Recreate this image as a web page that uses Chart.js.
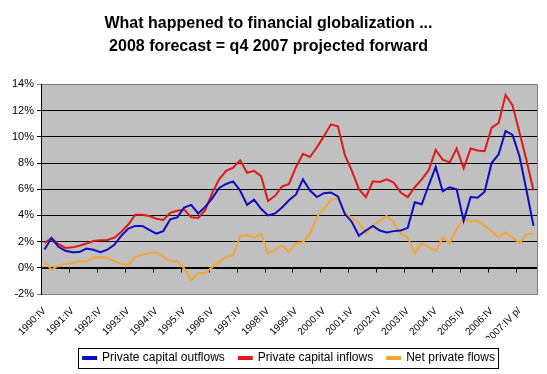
<!DOCTYPE html>
<html>
<head>
<meta charset="utf-8">
<script src="https://cdn.jsdelivr.net/npm/chart.js@4/dist/chart.umd.min.js"></script>
<style>
  html, body { margin: 0; padding: 0; background: #fff; }
  #wrap { width: 547px; height: 374px; }
</style>
</head>
<body>
<div id="wrap"><canvas id="chart" width="547" height="374"></canvas></div>
<script>
// quarters 1990:IV .. 2007:IV p/, then the two 2008 forecast points
const quarters = [
  "1990:IV",
  "1991:I", "1991:II", "1991:III", "1991:IV",
  "1992:I", "1992:II", "1992:III", "1992:IV",
  "1993:I", "1993:II", "1993:III", "1993:IV",
  "1994:I", "1994:II", "1994:III", "1994:IV",
  "1995:I", "1995:II", "1995:III", "1995:IV",
  "1996:I", "1996:II", "1996:III", "1996:IV",
  "1997:I", "1997:II", "1997:III", "1997:IV",
  "1998:I", "1998:II", "1998:III", "1998:IV",
  "1999:I", "1999:II", "1999:III", "1999:IV",
  "2000:I", "2000:II", "2000:III", "2000:IV",
  "2001:I", "2001:II", "2001:III", "2001:IV",
  "2002:I", "2002:II", "2002:III", "2002:IV",
  "2003:I", "2003:II", "2003:III", "2003:IV",
  "2004:I", "2004:II", "2004:III", "2004:IV",
  "2005:I", "2005:II", "2005:III", "2005:IV",
  "2006:I", "2006:II", "2006:III", "2006:IV",
  "2007:I", "2007:II", "2007:III", "2007:IV p/",
  "2008:I", "2008:II"
];

// % of GDP
const outflows = [
  1.4,
  2.27, 1.6, 1.3, 1.18,
  1.2, 1.47, 1.38, 1.2,
  1.38, 1.75, 2.45, 3.0,
  3.2, 3.2, 2.9, 2.6,
  2.8, 3.7, 3.85, 4.6,
  4.8, 4.15, 4.65, 5.3,
  6.1, 6.4, 6.6, 5.9,
  4.8, 5.2, 4.5, 4.0,
  4.15, 4.6, 5.15, 5.6,
  6.75, 5.9, 5.4, 5.7,
  5.75, 5.45, 4.1, 3.5,
  2.45, 2.85, 3.2, 2.85,
  2.7, 2.8, 2.85, 3.05,
  5.0, 4.85, 6.3, 7.7,
  5.85, 6.15, 6.0, 3.6,
  5.4, 5.35, 5.8, 8.0,
  8.65, 10.45, 10.15, 8.5,
  5.9, 3.2
];

const inflows = [
  1.9,
  2.25, 1.8, 1.52, 1.56,
  1.68, 1.85, 2.05, 2.1,
  2.12, 2.3, 2.75, 3.3,
  4.05, 4.05, 3.95, 3.75,
  3.65, 4.2, 4.35, 4.45,
  3.85, 3.8, 4.4, 5.7,
  6.75, 7.4, 7.65, 8.2,
  7.25, 7.4, 7.0, 5.1,
  5.5, 6.2, 6.4, 7.7,
  8.7, 8.45, 9.2, 10.05,
  10.95, 10.8, 8.6, 7.4,
  6.0, 5.4, 6.6, 6.55,
  6.75, 6.5, 5.75, 5.4,
  6.15, 6.75, 7.45, 9.0,
  8.25, 8.05, 9.1, 7.6,
  9.1, 8.95, 8.9, 10.7,
  11.05, 13.2, 12.4, 10.3,
  8.2, 5.9
];

const netFlows = [
  0.45,
  -0.15, 0.17, 0.3, 0.35,
  0.5, 0.48, 0.78, 0.82,
  0.75, 0.5, 0.3, 0.22,
  0.82, 1.0, 1.1, 1.2,
  0.85, 0.5, 0.5, -0.05,
  -0.95, -0.4, -0.4, 0.05,
  0.45, 0.85, 0.95, 2.4,
  2.5, 2.3, 2.6, 1.1,
  1.35, 1.7, 1.2, 1.9,
  1.95, 2.6, 3.9, 4.5,
  5.2, 5.3, 4.2, 3.8,
  3.45, 2.6, 3.2, 3.6,
  3.95, 3.45, 2.6, 2.3,
  1.1, 1.9, 1.55, 1.3,
  2.3, 1.9, 2.95, 3.8,
  3.55, 3.6, 3.2, 2.8,
  2.35, 2.7, 2.3, 1.9,
  2.55, 2.6
];

const seriesNames = ["Private capital outflows", "Private capital inflows", "Net private flows"];
const titleLines = ["What happened to financial globalization ...", "2008 forecast = q4 2007 projected forward"];

const BLUE = "#0c0cc4";
const RED = "#e01818";
const ORANGE = "#f4a634";

Chart.defaults.font.family = "'Liberation Sans', Arial, sans-serif";
Chart.defaults.color = "#000";

// grey plot area, right border, and the small year ticks hanging off the 0% line
const plotArea = {
  id: "plotArea",
  beforeDraw(chart) {
    const { ctx, chartArea: a } = chart;
    ctx.save();
    ctx.fillStyle = "#c0c0c0";
    ctx.fillRect(a.left, a.top, a.right - a.left, a.bottom - a.top);
    ctx.restore();
  },
  beforeDatasetsDraw(chart) {
    const { ctx, chartArea: a } = chart;
    const xs = chart.scales.x;
    const ys = chart.scales.y;
    ctx.save();
    ctx.strokeStyle = "#808080";
    ctx.lineWidth = 1;
    ctx.beginPath();
    ctx.moveTo(Math.round(a.right) + 0.5, a.top);
    ctx.lineTo(Math.round(a.right) + 0.5, a.bottom);
    ctx.stroke();

    const y0 = Math.round(ys.getPixelForValue(0)) + 0.5;
    const half = (xs.getPixelForValue(1) - xs.getPixelForValue(0)) / 2;
    ctx.strokeStyle = "#000";
    ctx.beginPath();
    ctx.moveTo(a.left, y0);
    ctx.lineTo(a.right, y0);
    for (let i = 4; i <= quarters.length; i += 4) {
      const px = Math.round(xs.getPixelForValue(i) - half) + 0.5;
      ctx.moveTo(px, y0);
      ctx.lineTo(px, y0 + 4);
    }
    ctx.stroke();
    ctx.restore();
  },
};

// frame around the legend
const legendFrame = {
  id: "legendFrame",
  afterDraw(chart) {
    const boxes = chart.legend && chart.legend.legendHitBoxes;
    if (!boxes || !boxes.length) return;
    const x1 = Math.min(...boxes.map((b) => b.left)) - 5;
    const x2 = Math.max(...boxes.map((b) => b.left + b.width)) + 3;
    const y1 = Math.min(...boxes.map((b) => b.top)) - 4;
    const y2 = Math.max(...boxes.map((b) => b.top + b.height)) + 4;
    const ctx = chart.ctx;
    ctx.save();
    ctx.strokeStyle = "#000";
    ctx.lineWidth = 1;
    ctx.strokeRect(Math.round(x1) + 0.5, Math.round(y1) + 0.5, Math.round(x2 - x1), Math.round(y2 - y1));
    ctx.restore();
  },
};

const ctx = document.getElementById("chart").getContext("2d");

new Chart(ctx, {
  type: "line",
  data: {
    labels: quarters,
    datasets: [
      { label: seriesNames[0], data: outflows, borderColor: BLUE, backgroundColor: BLUE },
      { label: seriesNames[1], data: inflows, borderColor: RED, backgroundColor: RED },
      { label: seriesNames[2], data: netFlows, borderColor: ORANGE, backgroundColor: ORANGE },
    ],
  },
  options: {
    responsive: false,
    animation: false,
    layout: { padding: { left: 0, right: 10, top: 0, bottom: 0 } },
    elements: {
      point: { radius: 0 },
      line: { borderWidth: 2, tension: 0 },
    },
    plugins: {
      title: {
        display: true,
        text: titleLines,
        font: { size: 16, weight: "bold", lineHeight: 1.45 },
        color: "#000",
        padding: { top: 12, bottom: 26 },
      },
      legend: {
        position: "bottom",
        fullSize: false,
        labels: {
          boxWidth: 13,
          boxHeight: 2,
          padding: 14,
          font: { size: 12 },
          color: "#000",
        },
      },
      tooltip: { enabled: false },
    },
    scales: {
      x: {
        type: "category",
        offset: true,
        grid: { display: false },
        border: { color: "#808080" },
        ticks: {
          autoSkip: false,
          minRotation: 45,
          maxRotation: 45,
          font: { size: 10 },
          color: "#000",
          callback: function (value, index) {
            return index % 4 === 0 ? this.getLabelForValue(value) : null;
          },
        },
        afterFit: (scale) => {
          scale.height = 44;
        },
      },
      y: {
        min: -2,
        max: 14,
        ticks: {
          stepSize: 2,
          font: { size: 11 },
          color: "#000",
          callback: (v) => v + "%",
        },
        grid: {
          tickLength: 4,
          color: (c) => (c.tick && (c.tick.value === -2 || c.tick.value === 14) ? "#808080" : "#000"),
        },
        border: { color: "#000" },
        afterFit: (scale) => {
          scale.width = 41;
        },
      },
    },
  },
  plugins: [plotArea, legendFrame],
});
</script>
</body>
</html>
